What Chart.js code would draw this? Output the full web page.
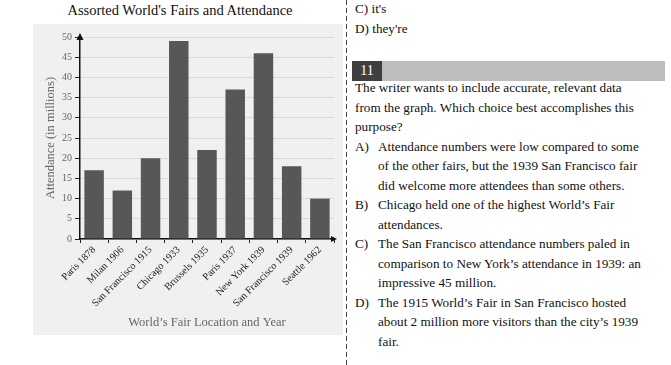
<!DOCTYPE html>
<html>
<head>
<meta charset="utf-8">
<script src="https://cdn.jsdelivr.net/npm/chart.js@4"></script>
<style>
  body { margin: 0; background: #fff; width: 671px; height: 365px; overflow: hidden; position: relative; font-family: "Liberation Serif", serif; }
  #titolo { position: absolute; left: 33px; width: 294px; top: 2px; text-align: center; font-size: 14.5px; color: #111; }
  #pannello { position: absolute; left: 33px; top: 24px; width: 310px; height: 311px; background: #f0f0f0; }
  #linea { position: absolute; left: 346px; top: 0; width: 1px; height: 365px;
    background: repeating-linear-gradient(to bottom, #444 0 5px, transparent 5px 8px); }
  .testo { position: absolute; left: 355px; font-size: 13.2px; line-height: 19.5px; color: #111; white-space: nowrap; }
  .opz { display: flex; }
  .opz .let { width: 23px; flex: none; }
  #barra { position: absolute; left: 352px; top: 61px; width: 313px; height: 20px; background: #bdbdbd; }
  #numero { position: absolute; left: 0; top: 0; width: 30px; height: 20px; background: #3f3f3f; color: #fff; font-size: 14px; line-height: 20px; text-align: center; }
</style>
</head>
<body>
<div id="titolo">Assorted World's Fairs and Attendance</div>
<div id="pannello"><canvas id="graficoFiere" width="310" height="311"></canvas></div>
<div id="linea"></div>

<div class="testo" style="top:-1px">C) it's<br>D) they're</div>
<div id="barra"><div id="numero">11</div></div>
<div class="testo" style="top:78px">
  The writer wants to include accurate, relevant data<br>
  from the graph. Which choice best accomplishes this<br>
  purpose?
  <div class="opz"><span class="let">A)</span><span>Attendance numbers were low compared to some<br>of the other fairs, but the 1939 San Francisco fair<br>did welcome more attendees than some others.</span></div>
  <div class="opz"><span class="let">B)</span><span>Chicago held one of the highest World’s Fair<br>attendances.</span></div>
  <div class="opz"><span class="let">C)</span><span>The San Francisco attendance numbers paled in<br>comparison to New York’s attendance in 1939: an<br>impressive 45 million.</span></div>
  <div class="opz"><span class="let">D)</span><span>The 1915 World’s Fair in San Francisco hosted<br>about 2 million more visitors than the city’s 1939<br>fair.</span></div>
</div>

<script>
// dati
const fiere = ["Paris 1878", "Milan 1906", "San Francisco 1915", "Chicago 1933", "Brussels 1935",
  "Paris 1937", "New York 1939", "San Francisco 1939", "Seattle 1962"];
const presenze = [17, 12, 20, 49, 22, 37, 46, 18, 10];
const yMax = 50;
const yPasso = 5;

const coloreTesto = "#666";
const font = "Liberation Serif";

// frecce alla fine degli assi
const frecce = {
  id: "frecce",
  afterDraw(chart) {
    const { ctx, chartArea } = chart;
    ctx.save();
    ctx.fillStyle = "#111";
    // asse y verso l'alto
    ctx.beginPath();
    ctx.moveTo(chartArea.left, chartArea.top - 4);
    ctx.lineTo(chartArea.left - 3.5, chartArea.top + 3);
    ctx.lineTo(chartArea.left + 3.5, chartArea.top + 3);
    ctx.closePath();
    ctx.fill();
    // asse x verso destra
    ctx.beginPath();
    ctx.moveTo(chartArea.right + 3, chartArea.bottom);
    ctx.lineTo(chartArea.right - 3, chartArea.bottom - 3);
    ctx.lineTo(chartArea.right - 3, chartArea.bottom + 3);
    ctx.closePath();
    ctx.fill();
    ctx.restore();
  },
};

const ctx = document.getElementById("graficoFiere").getContext("2d");
new Chart(ctx, {
  type: "bar",
  data: {
    labels: fiere,
    datasets: [
      {
        label: "Attendance",
        data: presenze,
        backgroundColor: "#575757",
        categoryPercentage: 1,
        barPercentage: 0.69,
      },
    ],
  },
  options: {
    responsive: false,
    animation: false,
    layout: { padding: { top: 13, right: 9, left: 0, bottom: 0 } },
    plugins: { legend: { display: false }, tooltip: { enabled: false } },
    scales: {
      x: {
        grid: { offset: true, drawOnChartArea: false, tickLength: 4, tickColor: "#222" },
        border: { color: "#111", width: 1.5 },
        ticks: {
          minRotation: 45,
          maxRotation: 45,
          autoSkip: false,
          padding: 1,
          color: "#222",
          font: { family: font, size: 10.2 },
        },
        title: {
          display: true,
          text: "World’s Fair Location and Year",
          color: coloreTesto,
          font: { family: font, size: 12.5 },
          padding: { top: 2, bottom: 5 },
        },
        afterFit: (scale) => { scale.height = 96; },
      },
      y: {
        min: 0,
        max: yMax,
        grid: { color: "#d9d9d9", tickLength: 5, tickColor: "#222" },
        border: { color: "#111", width: 1.5 },
        ticks: { stepSize: yPasso, padding: 3, color: coloreTesto, font: { family: font, size: 10 } },
        title: {
          display: true,
          text: "Attendance (in millions)",
          color: coloreTesto,
          font: { family: font, size: 12.5 },
          padding: { top: 10, bottom: 0 },
        },
        afterFit: (scale) => { scale.width = 47; },
      },
    },
  },
  plugins: [frecce],
});
</script>
</body>
</html>
